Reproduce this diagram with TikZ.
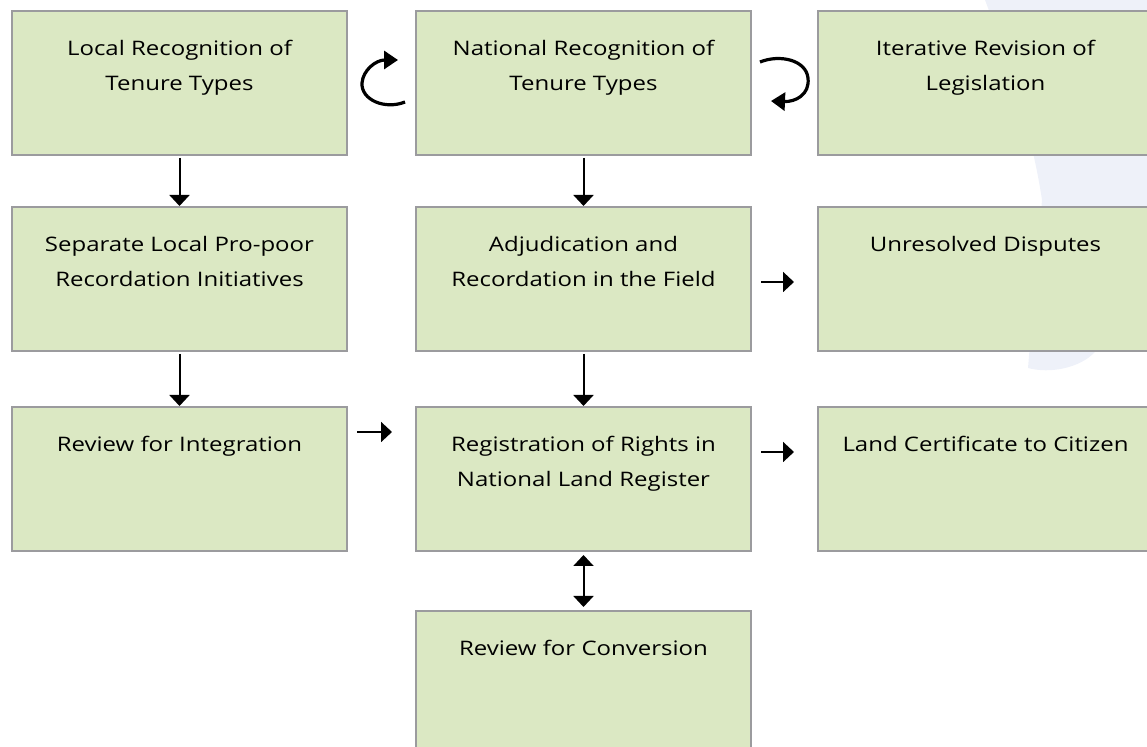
\documentclass[tikz,border=0pt]{standalone}
\usepackage{fontspec}
\setmainfont[FakeStretch=1.2]{Open Sans}
\usetikzlibrary{arrows.meta}
\definecolor{boxfill}{RGB}{219,232,195}
\definecolor{boxline}{RGB}{155,155,158}
\definecolor{bgshade}{RGB}{238,241,249}

\begin{document}
\begin{tikzpicture}
	[x=0.5pt,y=-0.5pt,
	 box/.style={draw=boxline,line width=1pt,fill=boxfill,inner sep=0pt,
	   minimum width=167.5pt,minimum height=72pt,
	   font=\fontsize{10}{17.5}\selectfont,
	   execute at begin node={\begin{minipage}[c][72pt][t]{164pt}\centering\vspace*{14.5pt}},
	   execute at end node={\end{minipage}}},
	 arr/.style={-{Triangle[width=10pt,length=5.5pt]},line width=1pt},
	 sidearr/.style={arr,shorten <=4.5pt,shorten >=11.5pt},
	 turn/.style={-{Triangle[width=9pt,length=7pt]},line width=1.6pt}]
\useasboundingbox (0,0) rectangle (1147,747);
% faint shape behind the right column
\fill[bgshade] (985,0) -- (1147,0) -- (1147,352) -- (1095,352)
  .. controls (1080,368) and (1050,374) .. (1028,368)
  -- (1042,200) .. controls (1030,120) and (1000,40) .. cycle;
% boxes
\node[box] (n1) at (179.5,83) {Local Recognition of\\Tenure Types};
\node[box] (n2) at (583.5,83) {National Recognition of\\Tenure Types};
\node[box] (n3) at (985.5,83) {Iterative Revision of\\Legislation};
\node[box] (n4) at (179.5,279) {Separate Local Pro-poor\\Recordation Initiatives};
\node[box] (n5) at (583.5,279) {Adjudication and\\Recordation in the Field};
\node[box] (n6) at (985.5,279) {Unresolved Disputes};
\node[box] (n7) at (179.5,479) {Review for Integration};
\node[box] (n8) at (583.5,479) {Registration of Rights in\\National Land Register};
\node[box] (n9) at (985.5,479) {Land Certificate to Citizen};
\node[box] (n10) at (583.5,683) {Review for Conversion};
% connectors
\draw[arr,shorten <=1pt] (n1) -- (n4);
\draw[arr,shorten <=1pt] (n2) -- (n5);
\draw[arr,shorten <=1pt] (n4) -- (n7);
\draw[arr,shorten <=1pt] (n5) -- (n8);
\draw[sidearr] ([yshift=-1.5pt]n5.east) -- ([yshift=-1.5pt]n6.west);
\draw[sidearr] ([yshift=23.5pt]n7.east) -- ([yshift=23.5pt]n8.west);
\draw[sidearr] ([yshift=13.5pt]n8.east) -- ([yshift=13.5pt]n9.west);
\draw[{Triangle[width=10pt,length=5.5pt]}-{Triangle[width=10pt,length=5.5pt]},line width=1pt,
  shorten <=1.5pt,shorten >=1.5pt] (n8) -- (n10);
% turning arrows
\draw[turn] (405,102) .. controls (385,110) and (361,100) .. (362,83)
  .. controls (363,70) and (376,60) .. (398,60);
\draw[turn] (760,62) .. controls (780,54) and (806,60) .. (808,78)
  .. controls (810,95) and (795,102) .. (771,101);
\end{tikzpicture}
\end{document}
